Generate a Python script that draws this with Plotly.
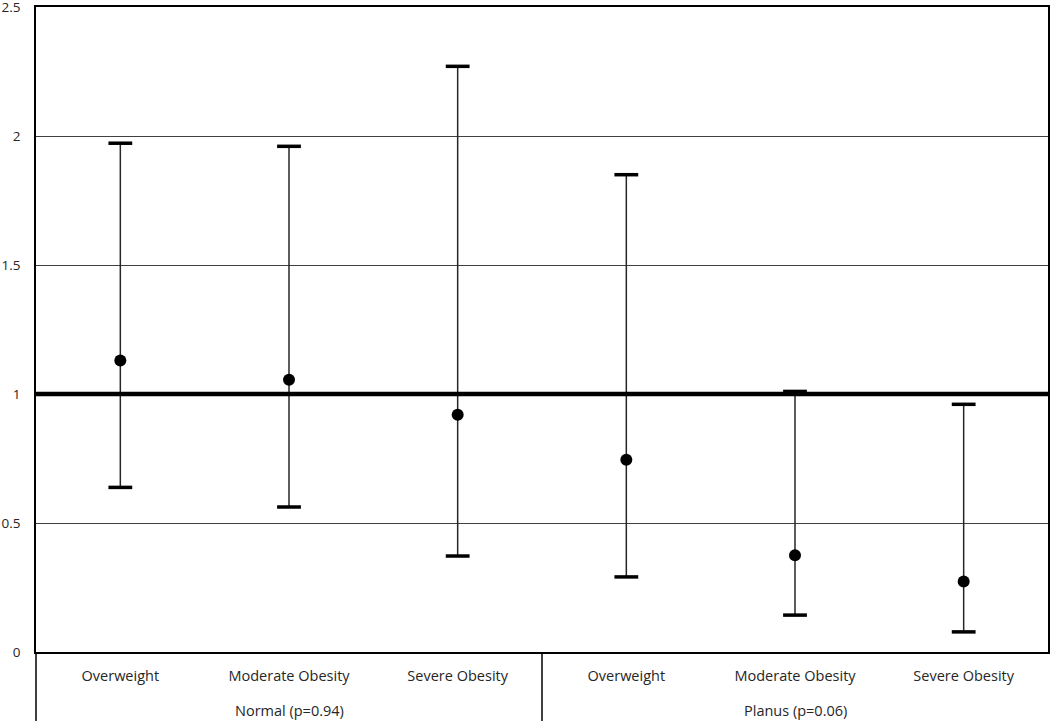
import plotly.graph_objects as go

# odds ratios with 95% CI
categories = ["Overweight", "Moderate Obesity", "Severe Obesity",
              "Overweight", "Moderate Obesity", "Severe Obesity"]
groups = ["Normal (p=0.94)", "Planus (p=0.06)"]
estimate = [1.13, 1.055, 0.92, 0.745, 0.375, 0.273]
upper = [1.972, 1.96, 2.27, 1.85, 1.01, 0.96]
lower = [0.638, 0.562, 0.372, 0.291, 0.143, 0.078]
yticks = [0, 0.5, 1, 1.5, 2, 2.5]

xpos = list(range(len(categories)))
font = dict(family="Open Sans", size=14.5, color="#262626")

fig = go.Figure()

# whiskers
fig.add_trace(go.Scatter(
    x=xpos, y=estimate, mode="markers",
    marker=dict(size=0.1, color="rgba(0,0,0,0)"),
    error_y=dict(type="data", symmetric=False,
                 array=[u - e for u, e in zip(upper, estimate)],
                 arrayminus=[e - l for e, l in zip(estimate, lower)],
                 color="#262626", thickness=1.5, width=0),
    hoverinfo="skip", showlegend=False))

# caps
fig.add_trace(go.Scatter(
    x=xpos + xpos, y=upper + lower, mode="markers",
    marker=dict(symbol="line-ew-open", size=17, color="black",
                line=dict(width=3.5, color="black")),
    hoverinfo="skip", showlegend=False))

# point estimates
fig.add_trace(go.Scatter(
    x=xpos, y=estimate, mode="markers",
    marker=dict(size=12, color="black"),
    showlegend=False))

# reference line at 1
fig.add_shape(type="line", xref="paper", yref="y", x0=0, x1=1, y0=1, y1=1,
              line=dict(color="black", width=4.5))

# border lines below the axis
for xp in [0, 0.5]:
    fig.add_shape(type="line", xref="paper", yref="paper",
                  x0=xp, x1=xp, y0=-69 / 645, y1=0,
                  line=dict(color="black", width=1.5))

for i, g in enumerate(groups):
    fig.add_annotation(x=1 + 3 * i, y=-58 / 645, xref="x", yref="paper",
                       yanchor="middle", text=g, showarrow=False, font=font)

fig.update_layout(
    width=1050, height=721,
    margin=dict(l=36, r=2, t=7, b=69, autoexpand=False),
    plot_bgcolor="white", paper_bgcolor="white",
    font=font,
    xaxis=dict(range=[-0.5, 5.5], tickvals=xpos, ticktext=categories,
               showgrid=False, zeroline=False, showline=True, mirror=True,
               linecolor="black", linewidth=1.5, ticks="",
               ticklabelstandoff=10, automargin=False, fixedrange=True),
    yaxis=dict(range=[0, 2.5], tickvals=yticks,
               ticktext=[f"{t:g}" for t in yticks],
               tickfont=dict(size=13.5),
               showgrid=True, gridcolor="#404040", gridwidth=1,
               zeroline=False, showline=True, mirror=True,
               linecolor="black", linewidth=1.5, ticks="",
               ticklabelstandoff=11, ticklabeloverflow="allow",
               automargin=False, fixedrange=True),
)

# the page body has a default 8px margin; drop it so the figure fills the window
fig.write_html("out.html", config={"displayModeBar": False},
               post_script="document.body.style.margin='0px';")
